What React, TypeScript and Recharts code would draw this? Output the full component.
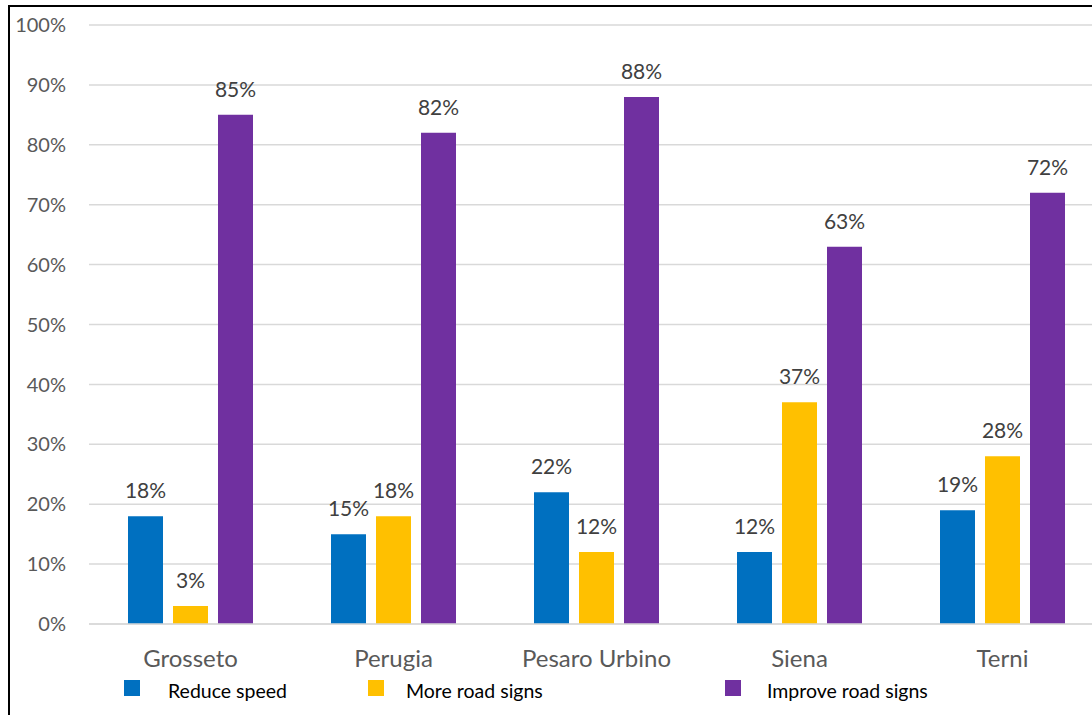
import { BarChart, Bar, XAxis, YAxis, CartesianGrid, LabelList, Legend } from 'recharts';

const cities = ['Grosseto', 'Perugia', 'Pesaro Urbino', 'Siena', 'Terni']
const reduceSpeed = [18, 15, 22, 12, 19]
const moreRoadSigns = [3, 18, 12, 37, 28]
const improveRoadSigns = [85, 82, 88, 63, 72]
const yTicks = [0, 10, 20, 30, 40, 50, 60, 70, 80, 90, 100]

const series = [
  { key: 'reduce', name: 'Reduce speed', color: '#0070C0', values: reduceSpeed },
  { key: 'more', name: 'More road signs', color: '#FFC000', values: moreRoadSigns },
  { key: 'improve', name: 'Improve road signs', color: '#7030A0', values: improveRoadSigns },
]

const data = cities.map((city, i) => {
  const row: Record<string, string | number> = { city }
  series.forEach((s) => { row[s.key] = s.values[i] })
  return row
})

const font = 'Lato, "Noto Sans", sans-serif'

// legend markers sit under the x axis labels, spread like the office original
const legendSpots = [
  { box: 124, text: 168 },
  { box: 368, text: 406 },
  { box: 725, text: 767 },
]

const LegendRow = () => (
  <div style={{ position: 'relative', width: 1092, height: 30 }}>
    {series.map((s, i) => (
      <div key={s.key}>
        <div style={{ position: 'absolute', left: legendSpots[i].box, top: 3, width: 16, height: 16, background: s.color }} />
        <div style={{ position: 'absolute', left: legendSpots[i].text, top: 2, fontFamily: font, fontSize: 19.5, color: '#000', lineHeight: '24px', whiteSpace: 'nowrap' }}>
          {s.name}
        </div>
      </div>
    ))}
  </div>
)

const App = () => {
  return (
    <div style={{ position: 'absolute', left: 0, top: 0, width: 1092, height: 715, overflow: 'hidden', background: '#fff' }}>
      <div style={{ position: 'absolute', left: 8, top: 5, width: 1100, height: 720, borderLeft: '2px solid #000', borderTop: '2px solid #000' }} />
      <BarChart
        width={1104}
        height={715}
        data={data}
        margin={{ top: 25, right: 0, left: 0, bottom: 0 }}
        barSize={35}
        barGap={10}
        style={{ position: 'absolute', left: 0, top: 0 }}
      >
        <CartesianGrid vertical={false} stroke="#D9D9D9" strokeWidth={1.5} />
        <XAxis
          dataKey="city"
          height={91}
          axisLine={{ stroke: '#D9D9D9', strokeWidth: 1.5 }}
          tickLine={false}
          tickSize={0}
          tickMargin={26}
          tick={{ fill: '#595959', fontSize: 24, fontFamily: font }}
          interval={0}
        />
        <YAxis
          width={89}
          domain={[0, 100]}
          ticks={yTicks}
          axisLine={false}
          tickLine={false}
          tickSize={0}
          tickMargin={23}
          tickFormatter={(v) => `${v}%`}
          tick={{ fill: '#595959', fontSize: 20, fontFamily: font }}
        />
        <Legend
          layout="horizontal"
          verticalAlign="middle"
          align="center"
          wrapperStyle={{ left: 0, top: 677, width: 1092, height: 30 }}
          content={() => <LegendRow />}
        />
        {series.map((s) => (
          <Bar key={s.key} dataKey={s.key} name={s.name} fill={s.color} isAnimationActive={false}>
            <LabelList
              dataKey={s.key}
              position="top"
              offset={18}
              formatter={(v) => `${v}%`}
              style={{ fill: '#404040', fontSize: 21, fontFamily: font }}
            />
          </Bar>
        ))}
      </BarChart>
    </div>
  )
}

export default App
